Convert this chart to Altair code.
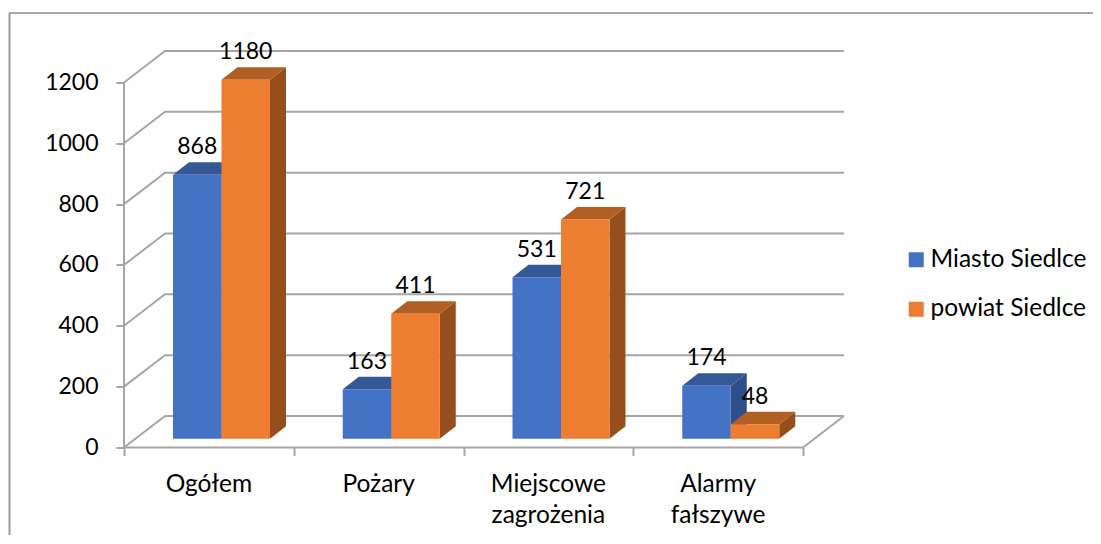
import altair as alt
import pandas as pd

categories = ["Ogółem", "Pożary", "Miejscowe\nzagrożenia", "Alarmy\nfałszywe"]
series = ["Miasto Siedlce", "powiat Siedlce"]
miasto = [868, 163, 531, 174]
powiat = [1180, 411, 721, 48]
ticks = [0, 200, 400, 600, 800, 1000, 1200]
front = ["#4472C4", "#ED7D31"]
top_c = ["#355896", "#B25F24"]
side_c = ["#2D4F8C", "#964F1C"]

FONT = "Lato"
FS_NUM = 23
FS_TXT = 24.5
GRID = "#A6A6A6"

# plot geometry: one x unit is one category slot, y unit is the value
PX_X, PX_Y = 169.75, 0.3042
W, H = 721, 398
WALL_X, WALL_Y = 41 / PX_X, 31.5 / PX_Y       # depth of floor
DEPTH_X, DEPTH_Y = 16 / PX_X, 12.5 / PX_Y     # depth of a bar
BASE_Y = 8.7 / PX_Y                           # bar offset from the front plane
BAR_W = 48.5 / PX_X
BAR_L = 49 / PX_X                             # left gap inside a slot

x_scale = alt.Scale(domain=[0, W / PX_X], range=[0, W], nice=False, zero=False)
y_scale = alt.Scale(domain=[0, H / PX_Y], range=[H, 0], nice=False, zero=False)
X = lambda f="x", **k: alt.X(f"{f}:Q", scale=x_scale, title=None, **k)
Y = lambda f="y", **k: alt.Y(f"{f}:Q", scale=y_scale, title=None, **k)

# walls and back grid
grid_rows = []
for t in ticks:
    for i, (gx, gy) in enumerate([(0, t), (WALL_X, t + WALL_Y), (4 + WALL_X, t + WALL_Y)]):
        grid_rows.append({"line": f"t{t}", "o": i, "x": gx, "y": gy})
grid_rows += [{"line": "floor", "o": 0, "x": 4, "y": 0},
              {"line": "floor", "o": 1, "x": 4 + WALL_X, "y": WALL_Y}]
grid = alt.Chart(pd.DataFrame(grid_rows)).mark_line(color=GRID, strokeWidth=2).encode(
    x=X(), y=Y(), detail="line:N", order="o:Q")

y_axis_line = alt.Chart(pd.DataFrame({"x": [0], "y": [0], "y2": [1200]})).mark_rule(
    color=GRID, strokeWidth=2).encode(
    x=X(axis=alt.Axis(values=[0, 1, 2, 3, 4], labels=False, domain=False, grid=False,
                      tickColor=GRID, tickWidth=2, tickSize=8)),
    y=Y(axis=alt.Axis(values=ticks, domain=False, grid=False, tickColor=GRID, tickWidth=2,
                      tickSize=8, labelFont=FONT, labelFontSize=FS_NUM, labelColor="#000000",
                      labelPadding=18, format="d")),
    y2="y2:Q")
x_axis_line = alt.Chart(pd.DataFrame({"x": [0], "x2": [4], "y": [0]})).mark_rule(
    color=GRID, strokeWidth=2).encode(x=X(), x2="x2:Q", y=Y())

# bars
front_rows, side_rows = [], []
top_rows = []
for s, (name, vals) in enumerate(zip(series, [miasto, powiat])):
    for c, v in enumerate(vals):
        l = c + BAR_L + s * BAR_W
        r = l + BAR_W
        t = BASE_Y + v
        b = BASE_Y
        front_rows.append({"series": name, "x": l, "x2": r, "y": b, "y2": t,
                           "xc": (l + r) / 2, "v": v})
        for ox, oy, oy2 in [(r, b, t), (r + DEPTH_X, b + DEPTH_Y, t + DEPTH_Y)]:
            side_rows.append({"s": s, "bar": f"{s}-{c}", "x": ox, "y": oy, "y2": oy2})
        for ox, oy, oy2 in [(l, t, t), (l + DEPTH_X, t, t + DEPTH_Y),
                            (r, t, t + DEPTH_Y), (r + DEPTH_X, t + DEPTH_Y, t + DEPTH_Y)]:
            top_rows.append({"s": s, "bar": f"{s}-{c}", "x": ox, "y": oy, "y2": oy2})
front_df = pd.DataFrame(front_rows)
side_df = pd.DataFrame(side_rows)
top_df = pd.DataFrame(top_rows)

faces = []
for s in range(2):
    faces.append(alt.Chart(side_df[side_df.s == s]).mark_area(
        color=side_c[s], orient="vertical", opacity=1).encode(
        x=X(), y=alt.Y("y:Q", scale=y_scale, title=None, stack=None), y2="y2:Q", detail="bar:N"))
for s in range(2):
    faces.append(alt.Chart(top_df[top_df.s == s]).mark_area(
        color=top_c[s], orient="vertical", opacity=1).encode(
        x=X(), y=alt.Y("y:Q", scale=y_scale, title=None, stack=None), y2="y2:Q", detail="bar:N"))

fronts = alt.Chart(front_df).mark_rect().encode(
    x=X(), x2="x2:Q", y=Y(), y2="y2:Q",
    color=alt.Color("series:N", scale=alt.Scale(domain=series, range=front), sort=series,
                    legend=alt.Legend(title=None, orient="none", legendX=780, legendY=198,
                                      symbolType="square", symbolSize=225, symbolStrokeWidth=0,
                                      labelFont=FONT, labelFontSize=FS_TXT, labelColor="#000000",
                                      labelOffset=2, rowPadding=24.5, padding=0,
                                      symbolOpacity=1)))

labels = alt.Chart(front_df).mark_text(font=FONT, fontSize=FS_NUM, color="#000000",
                                       baseline="middle", dy=-27.5).encode(
    x=X("xc"), y=Y("y2"), text="v:Q")

cat_df = pd.DataFrame({"c": categories, "x": [i + 0.5 for i in range(4)]})
cat_labels = alt.Chart(cat_df).mark_text(font=FONT, fontSize=FS_TXT, color="#000000", lineBreak="\n",
                                         lineHeight=31, baseline="top", align="center").encode(
    x=X(), y=alt.value(423), text="c:N")

frame_left = alt.Chart(pd.DataFrame({"a": [0]})).mark_rule(color="#9A9A9A", strokeWidth=2).encode(
    x=alt.value(-114.5), y=alt.value(-36.5), y2=alt.value(495))
frame_top = alt.Chart(pd.DataFrame({"a": [0]})).mark_rule(color="#8C8C8C", strokeWidth=1.5).encode(
    x=alt.value(-115), x2=alt.value(977), y=alt.value(-36.5))

chart = alt.layer(frame_left, frame_top, grid, y_axis_line, x_axis_line, *faces, fronts, labels,
                  cat_labels).properties(
    width=W, height=H,
    autosize=alt.AutoSizeParams(type="none"),
    padding={"left": 116, "top": 41.5, "right": 248, "bottom": 87},
).configure_view(stroke=None).configure_axis(labelFont=FONT)

chart.save("out.html", embed_options={"renderer": "svg", "actions": False})
